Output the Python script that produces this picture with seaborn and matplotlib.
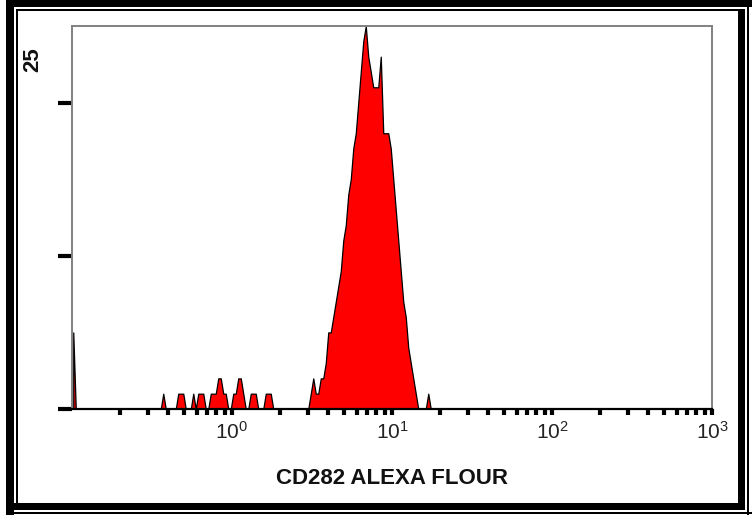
import numpy as np
import matplotlib
matplotlib.use("Agg")
import matplotlib.pyplot as plt
from matplotlib.patches import Rectangle
from matplotlib.ticker import LogLocator, NullFormatter
import seaborn as sns

# Acquisition layout: 256 log-spaced channels spanning 10^-1 .. 10^3
n_channels = 256
decade_lo, decade_hi = -1, 3

# Non-empty channels and their event counts
event_channels = [
    0, 36, 42, 43, 44, 48, 50, 51, 52,
    55, 56, 57, 58, 59, 60, 61,
    64, 65, 66, 67, 68, 71, 72, 73, 77, 78, 79,
    95, 96, 97, 98, 99, 100, 101, 102, 103, 104, 105, 106, 107, 108, 109,
    110, 111, 112, 113, 114, 115, 116, 117, 118, 119, 120, 121, 122, 123,
    124, 125, 126, 127, 128, 129, 130, 131, 132, 133, 134, 135, 136, 137,
    142,
]
event_counts = [
    5, 1, 1, 1, 1, 1, 1, 1, 1,
    1, 1, 1, 2, 2, 1, 1,
    1, 1, 2, 2, 1, 1, 1, 1, 1, 1, 1,
    1, 2, 1, 1, 2, 2, 3, 5, 5, 6, 7, 8, 9, 11, 12,
    14, 15, 17, 18, 20, 22, 24, 25, 23, 22, 21, 21, 21, 23,
    18, 18, 18, 17, 15, 13, 11, 9, 7, 6, 4, 3, 2, 1,
    1,
]

y_ticks = [0, 10, 20]
y_max = 25
x_major = [1, 10, 100, 1000]
x_major_labels = [r"$\mathregular{10^{0}}$", r"$\mathregular{10^{1}}$",
                  r"$\mathregular{10^{2}}$", r"$\mathregular{10^{3}}$"]
x_label = "CD282 ALEXA FLOUR"

sns.set_style("white")
plt.rcParams["font.family"] = ["Liberation Sans", "DejaVu Sans"]
plt.rcParams["mathtext.fontset"] = "custom"
plt.rcParams["mathtext.rm"] = "Liberation Sans"
plt.rcParams["mathtext.default"] = "regular"

W, H = 752, 515
fig = plt.figure(figsize=(W / 100, H / 100), dpi=100)
fig.patch.set_facecolor("white")


def px_rect(x, y, w, h):
    """Rectangle given in pixels from the top-left corner of the figure."""
    return Rectangle((x / W, 1 - (y + h) / H), w / W, h / H,
                     transform=fig.transFigure, facecolor="black",
                     edgecolor="none", zorder=10)


# window frame: heavy outer band plus thin inner rule
for r in [
    px_rect(6, 0, 746, 7),      # top heavy
    px_rect(6, 0, 8, 515),      # left heavy
    px_rect(16, 9, 724, 2),     # top thin
    px_rect(16, 9, 2, 494),     # left thin
    px_rect(14, 503, 726, 7),   # bottom heavy
    px_rect(6, 512, 746, 2),    # bottom thin
    px_rect(738, 9, 7, 501),    # right heavy
    px_rect(747, 0, 2, 515),    # right thin
]:
    fig.add_artist(r)

ax = fig.add_axes([72 / W, (H - 409) / H, 640 / W, 383 / H])
ax.set_facecolor("white")

step = (decade_hi - decade_lo) / n_channels
centers = 10 ** (decade_lo + (np.asarray(event_channels) + 0.5) * step)

sns.histplot(
    x=centers, weights=event_counts,
    bins=n_channels, binrange=(decade_lo, decade_hi), log_scale=True,
    element="poly", fill=True, color="#ff0000", alpha=1,
    edgecolor="black", linewidth=0.9, ax=ax,
)

ax.set_xlim(10 ** decade_lo, 10 ** decade_hi)
ax.set_ylim(0, y_max)

for side in ["left", "top", "right"]:
    ax.spines[side].set_visible(True)
    ax.spines[side].set_color("#808080")
    ax.spines[side].set_linewidth(1.4)
ax.spines["bottom"].set_visible(True)
ax.spines["bottom"].set_color("black")
ax.spines["bottom"].set_linewidth(1.6)

ax.set_xticks(x_major)
ax.set_xticklabels(x_major_labels)
ax.xaxis.set_minor_locator(LogLocator(base=10, subs=np.arange(2, 10)))
ax.xaxis.set_minor_formatter(NullFormatter())
ax.tick_params(axis="x", which="both", direction="out", length=4.5,
               width=3, color="black", bottom=True, pad=4,
               labelsize=15, labelcolor="#222222")

ax.set_yticks(y_ticks)
ax.set_yticklabels([])
ax.tick_params(axis="y", which="major", direction="out", length=10,
               width=3, color="black", left=True)
ax.tick_params(axis="y", which="minor", left=False)

ax.set_ylabel("")
ax.set_xlabel(x_label, fontsize=16, fontweight="bold", color="#111111")
ax.xaxis.set_label_coords(0.5, (409 - 479) / 383)
ax.xaxis.label.set_va("center")

ax.text((33 - 72) / 640, (409 - 60) / 383, str(y_max), transform=ax.transAxes,
        rotation=90, ha="center", va="center", fontsize=16,
        fontweight="bold", color="#111111")

fig.savefig("out.png", dpi=100, facecolor="white")
